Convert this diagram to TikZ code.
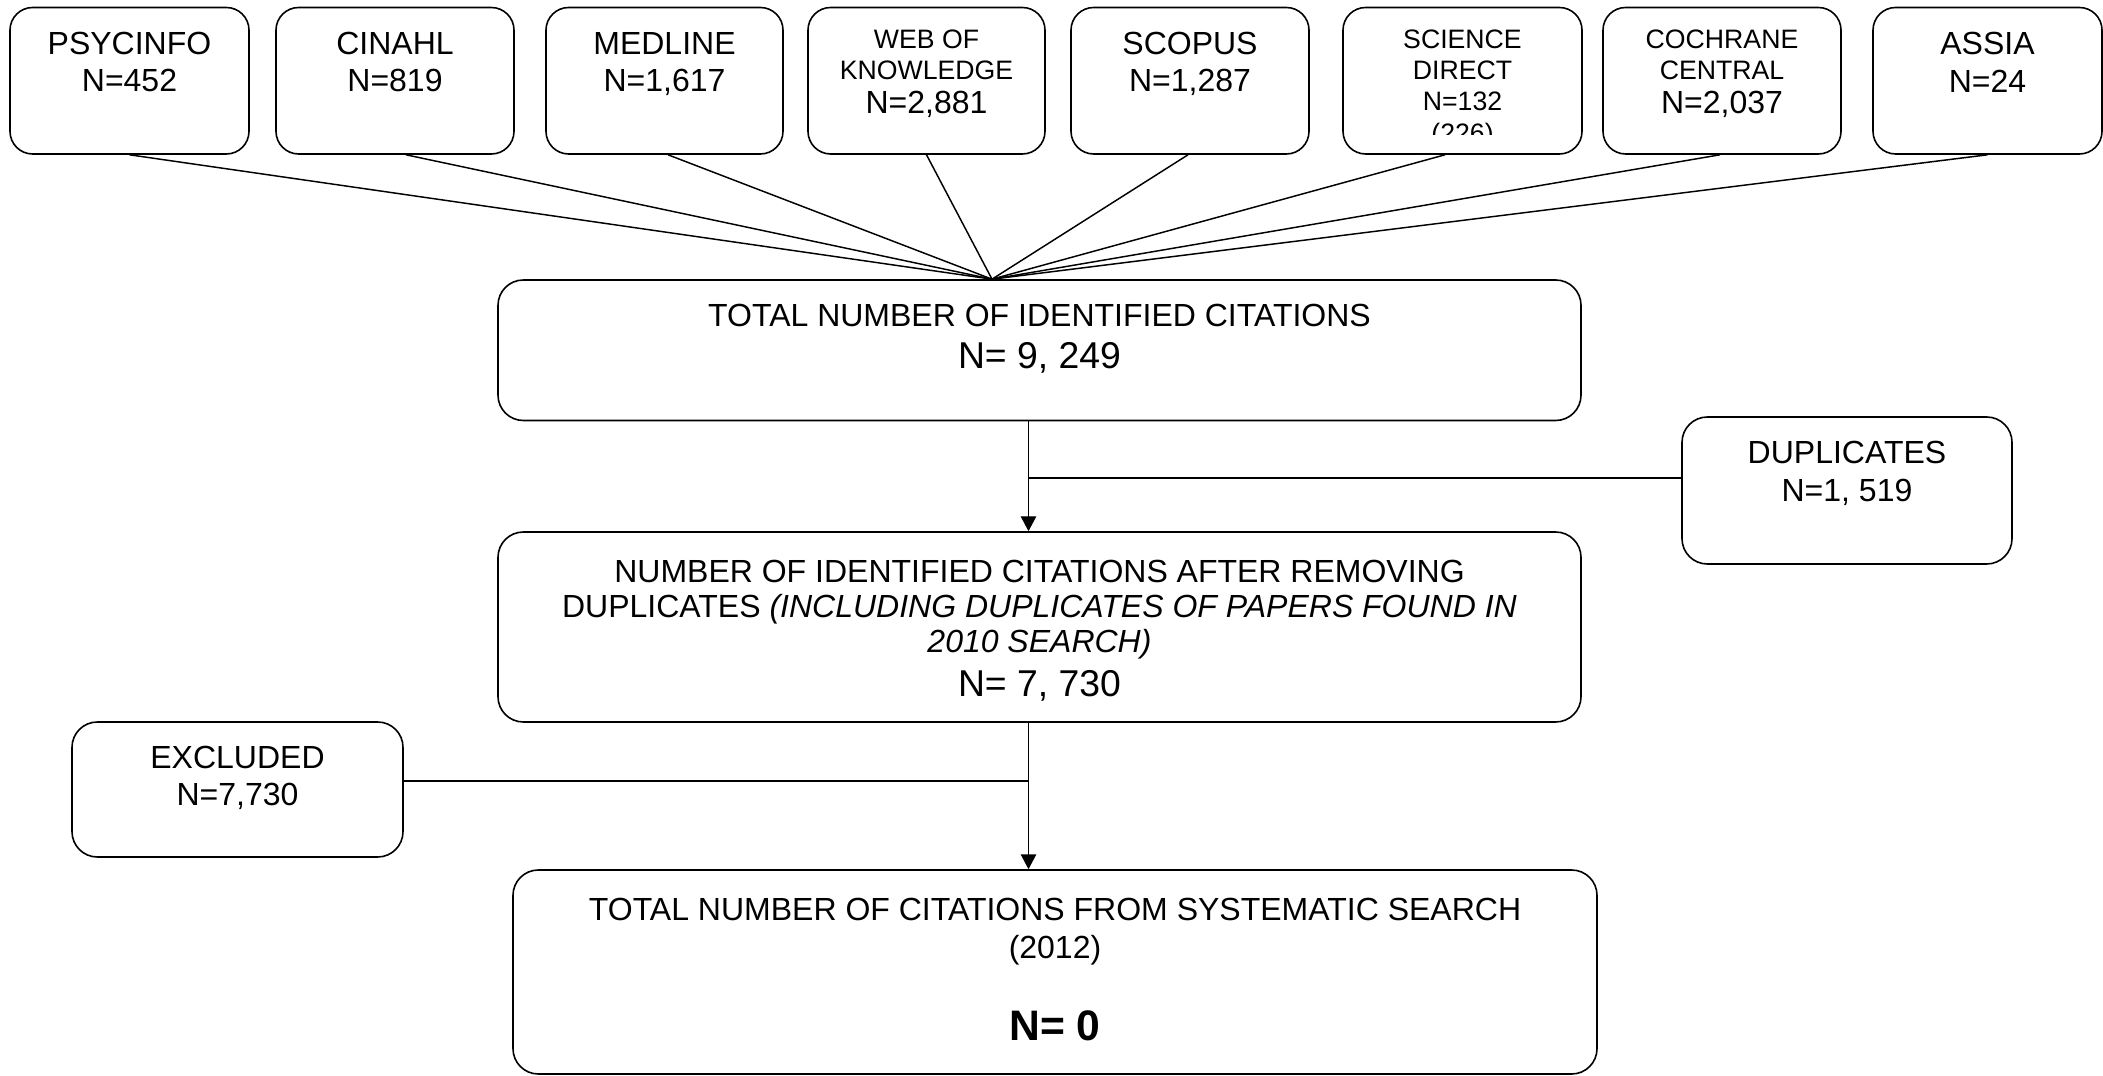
\documentclass[tikz,border=0pt]{standalone}
\usepackage{fontspec}
\setmainfont{Liberation Sans}
\usepackage{tikz}
\usetikzlibrary{arrows.meta}
\usetikzlibrary{calc}

\newdimen\pxu
\pxu=0.375pt
% width, height, first baseline (px), content
\newcommand{\boxtext}[4]{\parbox[c][#2\pxu][t]{#1\pxu}{\centering\lineskiplimit=-50pt\rule{0pt}{#3\pxu}#4\par}}

\begin{document}
\begin{tikzpicture}[x=0.375pt, y=-0.375pt,
		dbbox/.style={draw, rounded corners=8.5pt, inner sep=0pt, line width=0.6pt},
		flowbox/.style={draw, rounded corners=9.5pt, inner sep=0pt, line width=0.6pt},
		link/.style={line width=0.55pt},
		flow/.style={line width=0.55pt, -{Triangle[length=5.6pt, width=5.8pt]}}
	]
	\useasboundingbox (0,0) rectangle (2103,1076);

	% databases
	\node[dbbox] (psyc) at (129.5,80.75) {\boxtext{239}{146.5}{47}{\fontsize{12}{13.7}\selectfont PSYCINFO\\N=452}};
	\node[dbbox] (cinahl) at (395,80.75) {\boxtext{238}{146.5}{47}{\fontsize{12}{13.7}\selectfont CINAHL\\N=819}};
	\node[dbbox] (medline) at (664.5,80.75) {\boxtext{237}{146.5}{47}{\fontsize{12}{13.7}\selectfont MEDLINE\\N=1,617}};
	\node[dbbox] (wok) at (926.5,80.75) {\boxtext{237}{146.5}{41.5}{\fontsize{10}{11.6}\selectfont WEB OF\\KNOWLEDGE\\[1.15pt]{\fontsize{12}{11.6}\selectfont N=2,881}}};
	\node[dbbox] (scopus) at (1190,80.75) {\boxtext{238}{146.5}{47}{\fontsize{12}{13.7}\selectfont SCOPUS\\N=1,287}};
	\node[dbbox] (scidir) at (1462.5,80.75) {\boxtext{239}{146.5}{41.5}{\fontsize{10}{11.44}\selectfont SCIENCE\\DIRECT\\N=132}};
	\node[dbbox] (cochrane) at (1722,80.75) {\boxtext{238}{146.5}{41.5}{\fontsize{10}{11.6}\selectfont COCHRANE\\CENTRAL\\[1.15pt]{\fontsize{12}{11.6}\selectfont N=2,037}}};
	\node[dbbox] (assia) at (1987.5,80.75) {\boxtext{229}{146.5}{47.5}{\fontsize{12}{13.9}\selectfont ASSIA\\N=24}};

	% cut-off line in science direct
	\begin{scope}
		\clip (1343,8) rectangle (1582,135);
		\node[anchor=base, inner sep=0pt, font=\fontsize{10}{11.44}\selectfont] (scidirextra) at (1462.5,143) {(226)};
	\end{scope}

	% flow
	\node[flowbox] (tot) at (1039.5,350.25) {\boxtext{1083}{140.5}{46.5}{\fontsize{12}{15.9}\selectfont TOTAL NUMBER OF IDENTIFIED CITATIONS\\{\fontsize{14}{15.9}\selectfont N= 9, 249}}};
	\node[flowbox] (dup) at (1847,490.5) {\boxtext{330}{147}{47}{\fontsize{12}{14.25}\selectfont DUPLICATES\\N=1, 519}};
	\node[flowbox] (rem) at (1039.5,627) {\boxtext{1083}{190}{51}{\fontsize{12}{13.1}\selectfont NUMBER OF IDENTIFIED CITATIONS AFTER REMOVING\\DUPLICATES \textit{(INCLUDING DUPLICATES OF PAPERS FOUND IN}\\\textit{2010 SEARCH)}\\[3.4pt]{\fontsize{14}{13.1}\selectfont N= 7, 730}}};
	\node[flowbox] (exc) at (237.5,789.5) {\boxtext{331}{135}{46}{\fontsize{12}{13.9}\selectfont EXCLUDED\\N=7,730}};
	\node[flowbox] (fin) at (1055,972) {\boxtext{1084}{204}{50.7}{\fontsize{12}{14}\selectfont TOTAL NUMBER OF CITATIONS FROM SYSTEMATIC SEARCH\\(2012)\\[16.75pt]{\fontsize{16}{14}\selectfont\bfseries N= 0}}};

	% connectors
	\foreach \db/\dx in {psyc/0, cinahl/11, medline/3.5, wok/0, scopus/-2, scidir/-17.5, cochrane/-2, assia/0}
		\draw[link] ($(\db.south)+(\dx,0)$) -- ($(tot.north)+(-47.5,0)$);

	\coordinate (axisa) at ($(tot.south)+(-11,0)$);
	\coordinate (axisb) at ($(rem.south)+(-11,0)$);
	\coordinate (dupin) at ($(dup.west)+(0,-12.5)$);
	\coordinate (excout) at ($(exc.east)+(0,-8.5)$);

	\draw[flow] (axisa) -- (axisa |- rem.north);
	\draw[link] (dupin) -- (axisa |- dupin);
	\draw[flow] (axisb) -- (axisb |- fin.north);
	\draw[link] (excout) -- (axisb |- excout);
\end{tikzpicture}
\end{document}
